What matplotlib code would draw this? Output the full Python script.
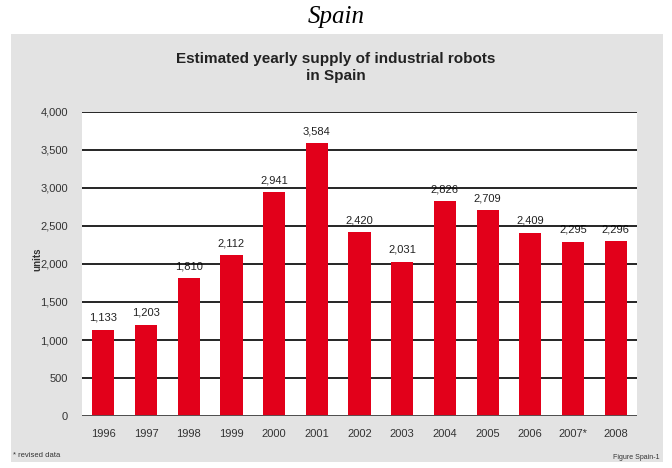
import matplotlib.pyplot as plt
from matplotlib.patches import Rectangle

years = ['1996', '1997', '1998', '1999', '2000', '2001', '2002',
         '2003', '2004', '2005', '2006', '2007*', '2008']
units = [1133, 1203, 1810, 2112, 2941, 3584, 2420,
         2031, 2826, 2709, 2409, 2295, 2296]
yticks = [0, 500, 1000, 1500, 2000, 2500, 3000, 3500, 4000]

plt.rcParams['font.family'] = ['Liberation Sans', 'DejaVu Sans']

fig = plt.figure(figsize=(6.72, 4.68), dpi=100)
fig.patch.set_facecolor('white')

# grey panel behind the chart
fig.patches.append(Rectangle((0.016, 0.013), 0.971, 0.915, transform=fig.transFigure,
                             facecolor='#e3e3e3', edgecolor='none', zorder=0))

fig.text(0.5, 0.963, 'Spain', ha='center', va='center', fontsize=18,
         style='italic', family='Liberation Serif')
fig.text(0.5, 0.855, 'Estimated yearly supply of industrial robots\nin Spain',
         ha='center', va='center', fontsize=11, fontweight='bold',
         color='#222222', linespacing=1.25)

ax = fig.add_axes([0.122, 0.111, 0.826, 0.650])
ax.set_zorder(2)
ax.set_facecolor('white')
x = range(len(years))
bars = ax.bar(x, units, width=0.52, color='#e2001a', zorder=3)
for xi, v in zip(x, units):
    ax.annotate(f'{v:,}', (xi, v), xytext=(0, 5), textcoords='offset points',
                ha='center', va='bottom', fontsize=8, color='#222222', zorder=0.5)

ax.set_ylim(0, 4000)
ax.set_xlim(-0.5, len(years) - 0.5)
ax.set_yticks(yticks)
ax.set_yticklabels([f'{t:,}' for t in yticks], fontsize=8, color='#333333')
ax.set_xticks(list(x))
ax.set_xticklabels(years, fontsize=8, color='#333333')
ax.tick_params(axis='both', length=0)
ax.tick_params(axis='y', pad=10)
ax.tick_params(axis='x', pad=9)
ax.grid(axis='y', color='black', linewidth=1.2, zorder=1)
ax.set_axisbelow(True)
ax.axhline(0, color='#555555', linewidth=2, zorder=4)
for s in ax.spines.values():
    s.set_visible(False)

fig.text(0.055, 0.445, 'units', rotation=90, ha='center', va='center',
         fontsize=7, fontweight='bold', color='#333333')
fig.text(0.02, 0.026, '* revised data', ha='left', va='center', fontsize=5.5, color='#333333')
fig.text(0.982, 0.022, 'Figure Spain-1', ha='right', va='center', fontsize=5, color='#333333')

fig.savefig('out.png', dpi=100, facecolor='white')
